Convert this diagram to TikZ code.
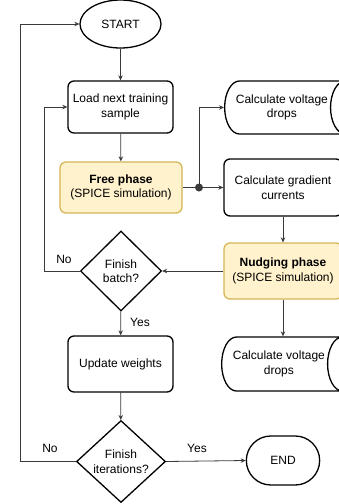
\documentclass[tikz,border=0pt]{standalone}
\usepackage{fontspec}
\setmainfont{Liberation Sans}
\usetikzlibrary{shapes.geometric,shapes.misc,arrows.meta}

\definecolor{phasefill}{HTML}{FFF2CC}
\definecolor{phaseline}{HTML}{D6B656}
\definecolor{linkgray}{HTML}{3A3A3A}

\tikzset{
  every node/.style={font=\fontsize{12}{14.5}\selectfont, align=center},
  process/.style={rectangle, draw, line width=1.3pt, rounded corners=6pt,
    minimum width=105pt, minimum height=52pt, inner sep=2pt},
  phase/.style={process, fill=phasefill, draw=phaseline},
  % cylinder sizes are taken along its own axis
  store/.style={cylinder, draw, line width=1.3pt, aspect=1,
    minimum height=129pt, minimum width=53pt, inner sep=2pt},
  decision/.style={diamond, draw, line width=1.3pt, minimum width=81pt,
    minimum height=80pt, inner sep=0pt},
  terminal/.style={ellipse, draw, line width=1.3pt, minimum width=81pt,
    minimum height=48pt},
  flow/.style={draw=linkgray, line width=0.8pt, -{Stealth[length=5pt,width=4.5pt]}},
  lbl/.style={inner sep=0pt}
}

\begin{document}
\begin{tikzpicture}[x=1pt,y=-1pt]
\useasboundingbox (0,0) rectangle (339,504);

% main column
\node[terminal] (start) at (120.5,24) {START};
\node[process] (load) at (120.5,107) {Load next training\\sample};
\node[phase, minimum width=122pt, minimum height=51pt] (free) at (121,187.5)
  {\textbf{Free phase}\\(SPICE simulation)};
\node[decision] (batch) at (121,271) {Finish\\batch?};
\node[process, minimum height=56pt] (update) at (120.5,364) {Update weights};
\node[decision, minimum width=89pt, minimum height=82pt] (iter) at (121,461.5)
  {Finish\\iterations?};

% right column
\node[store, anchor=west] (dropsA) at (224,107.5) {Calculate voltage\\drops};
\node[process, minimum width=118pt, minimum height=57pt] (grad) at (283,187.5)
  {Calculate gradient\\currents};
\node[phase, minimum width=118pt, minimum height=56pt] (nudge) at (283,271)
  {\textbf{Nudging phase}\\(SPICE simulation)};
\node[store, anchor=west, minimum width=54pt] (dropsB) at (221,364)
  {Calculate voltage\\drops};
\node[rounded rectangle, draw, line width=1.3pt, minimum width=80pt,
  minimum height=49pt] (stop) at (283,460.5) {END};

% junction after the free phase
\coordinate (split) at (199,187.5);
\fill[linkgray] (split) circle (4pt);
\coordinate (backA) at (44,271);
\coordinate (backB) at (20,461.5);

% connectors
\draw[flow] (start) -- (load);
\draw[flow] (load) -- (free);
\draw[flow] (free.east) -- (grad.west);
\draw[flow] (split) |- (dropsA.west);
\draw[flow] (grad) -- (nudge);
\draw[flow] (nudge.west) -- (batch.east);
\draw[flow] (nudge.south) -- (dropsB.north -| nudge.south);
\draw[flow] (batch.west) -- (backA) |- (load.west);
\draw[flow] (batch) -- (update);
\draw[flow] (update) -- (iter);
\draw[flow] (iter.east) -- (stop.west);
\draw[flow] (iter.west) -- (backB) |- (start.west);

% branch labels
\node[lbl] (noA) at (64,259) {No};
\node[lbl] (yesA) at (140,322) {Yes};
\node[lbl] (noB) at (50,448) {No};
\node[lbl] (yesB) at (197,448) {Yes};
\end{tikzpicture}
\end{document}
